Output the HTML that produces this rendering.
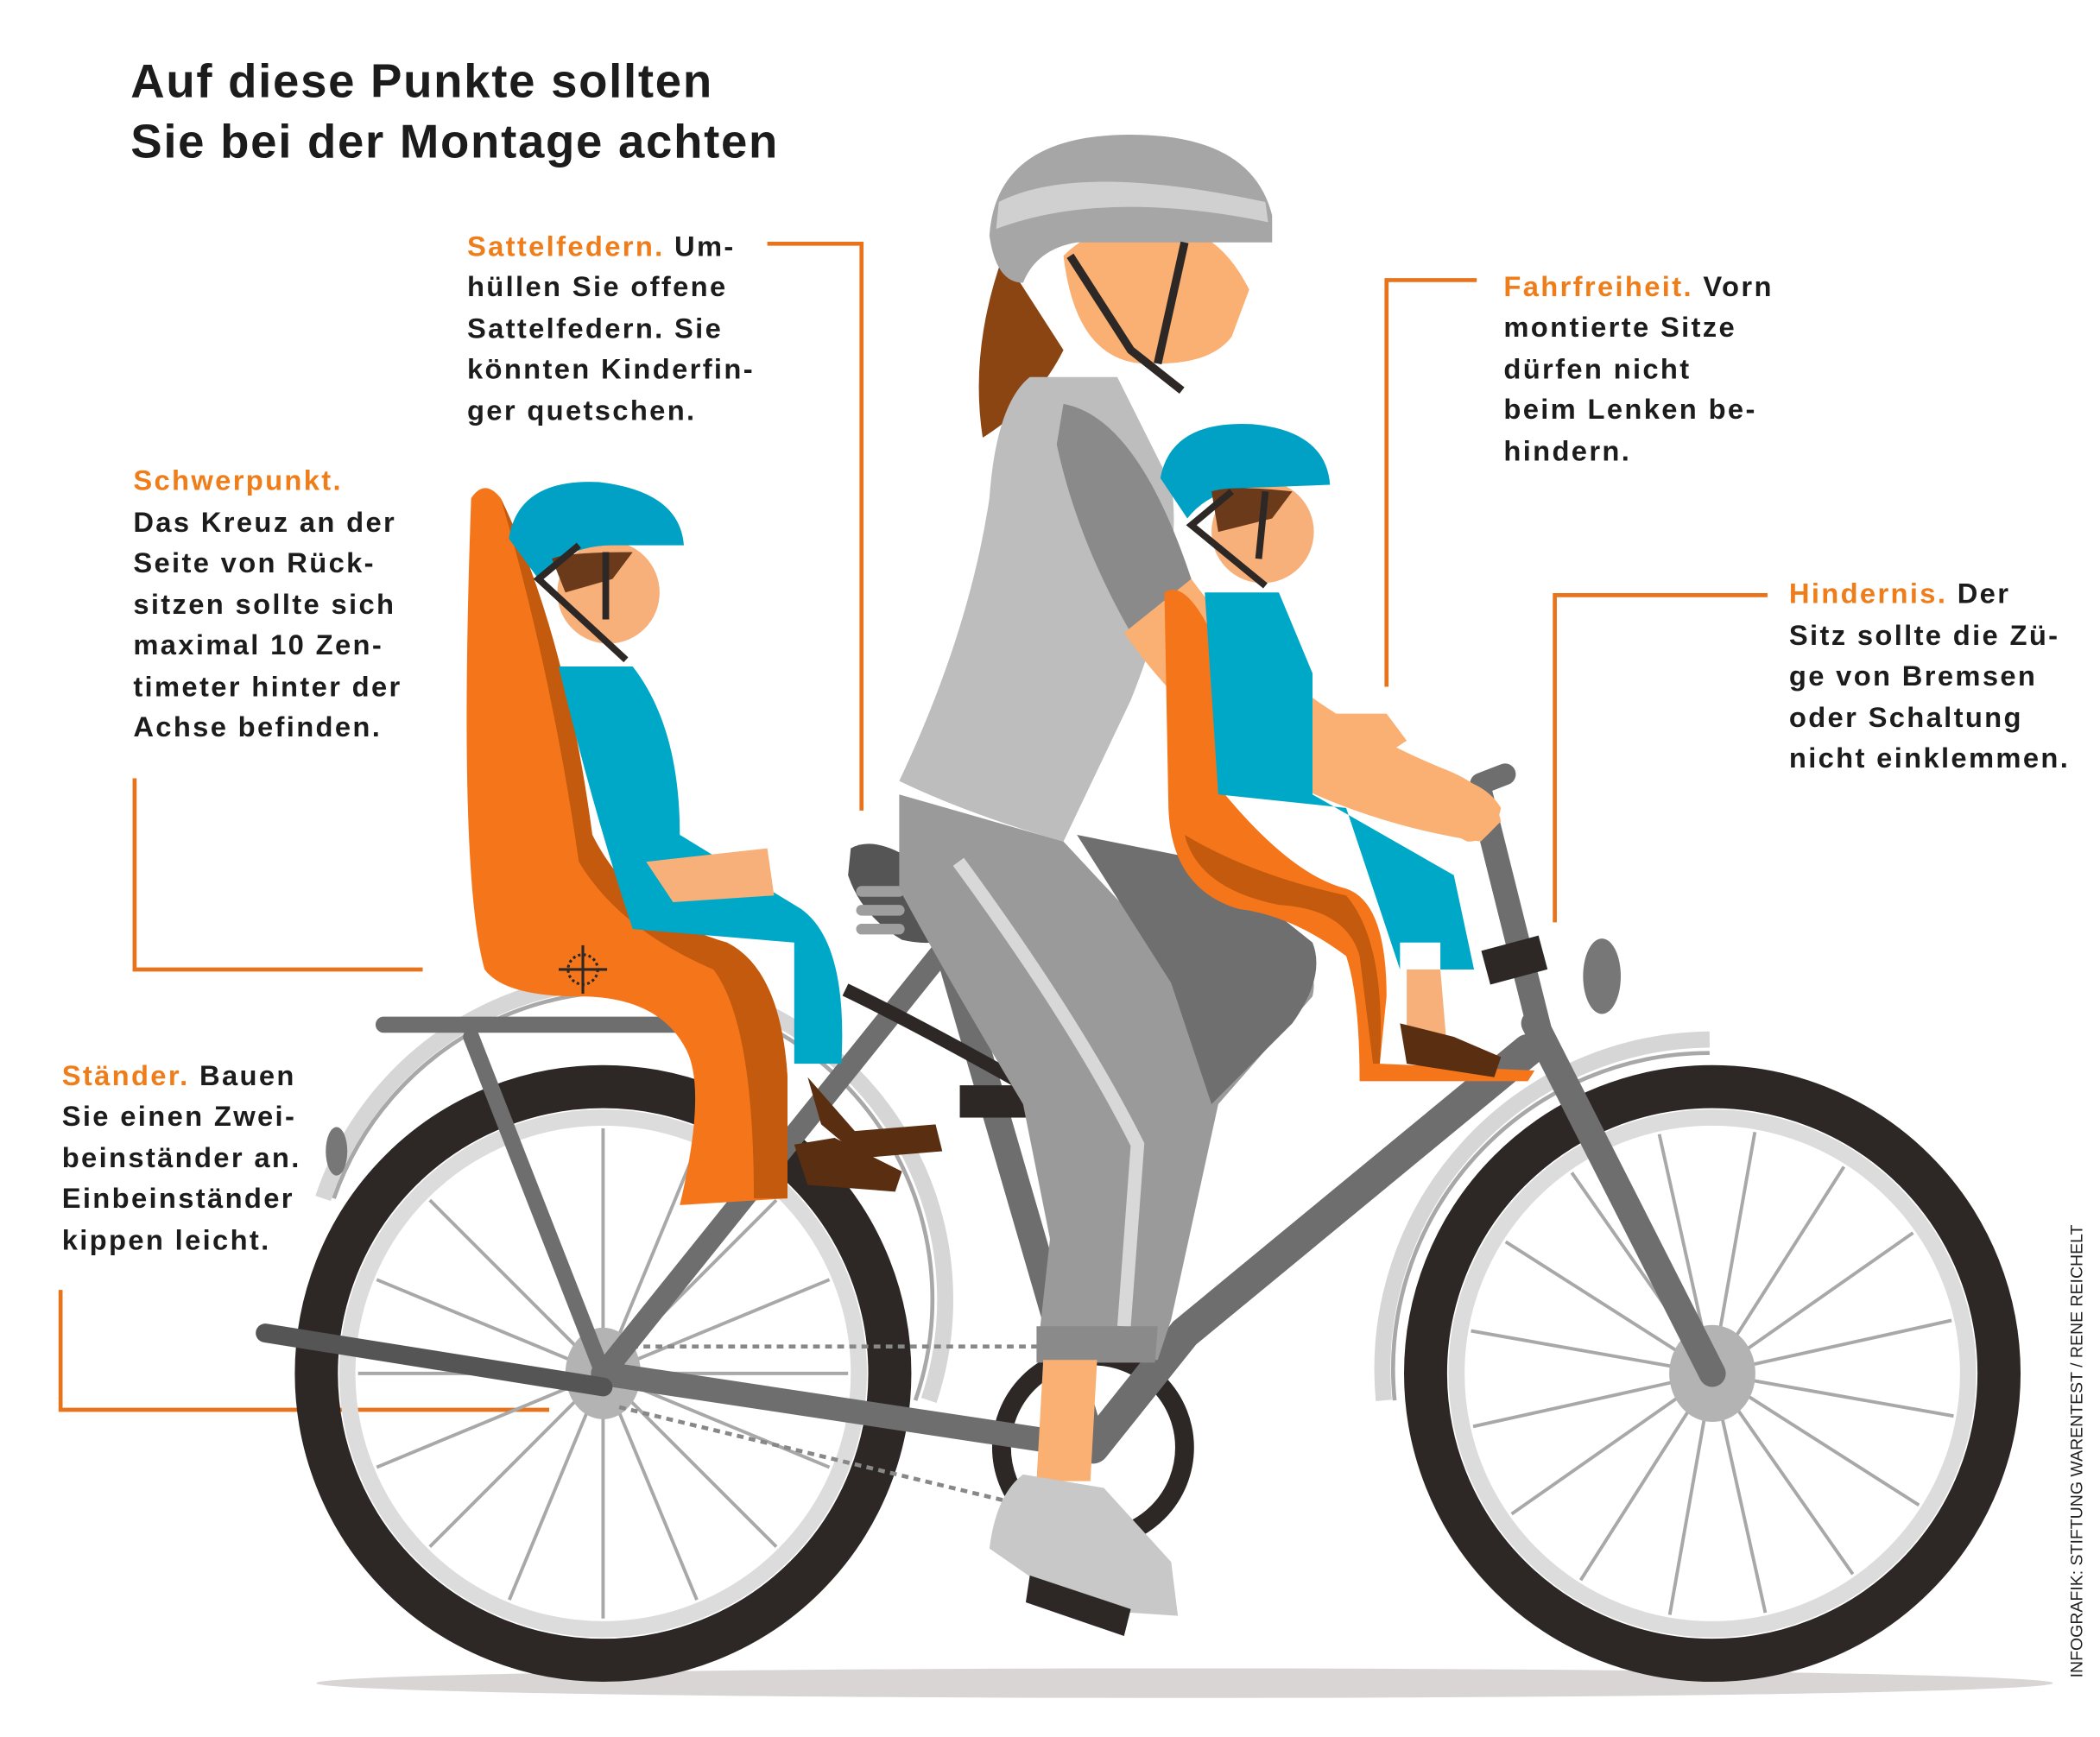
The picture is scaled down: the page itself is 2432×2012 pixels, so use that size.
<!DOCTYPE html>
<html><head><meta charset="utf-8"><style>
html,body{margin:0;padding:0;background:#fff}
svg{display:block}
text{font-family:"Liberation Sans",sans-serif}
.b{font-size:21px;font-weight:bold;fill:#1c1c1c;letter-spacing:1.5px}
.o{fill:#ef7d1a}
</style></head><body>
<svg width="2432" height="2012" viewBox="0 0 1560 1290" preserveAspectRatio="none" xmlns="http://www.w3.org/2000/svg">
<rect width="1560" height="1290" fill="#fff"/>
<!-- title -->
<text x="97" y="72" font-size="35" font-weight="bold" fill="#1c1c1c" letter-spacing="1.1">Auf diese Punkte sollten</text>
<text x="97" y="117" font-size="35" font-weight="bold" fill="#1c1c1c" letter-spacing="1.1">Sie bei der Montage achten</text>

<!-- connectors -->
<g stroke="#e8731a" stroke-width="3" fill="none">
<polyline points="570,181 640,181 640,602"/>
<polyline points="100,578 100,720 314,720"/>
<polyline points="45,958 45,1047 408,1047"/>
<polyline points="1097,208 1030,208 1030,510"/>
<polyline points="1313,442 1155,442 1155,685"/>
</g>

<!-- texts -->
<g class="b">
<text x="347" y="190"><tspan class="o">Sattelfedern.</tspan> Um-</text>
<text x="347" y="220">hüllen Sie offene</text>
<text x="347" y="251">Sattelfedern. Sie</text>
<text x="347" y="281">könnten Kinderfin-</text>
<text x="347" y="312">ger quetschen.</text>

<text x="99" y="364"><tspan class="o">Schwerpunkt.</tspan></text>
<text x="99" y="395">Das Kreuz an der</text>
<text x="99" y="425">Seite von Rück-</text>
<text x="99" y="456">sitzen sollte sich</text>
<text x="99" y="486">maximal 10 Zen-</text>
<text x="99" y="517">timeter hinter der</text>
<text x="99" y="547">Achse befinden.</text>

<text x="46" y="806"><tspan class="o">Ständer.</tspan> Bauen</text>
<text x="46" y="836">Sie einen Zwei-</text>
<text x="46" y="867">beinständer an.</text>
<text x="46" y="897">Einbeinständer</text>
<text x="46" y="928">kippen leicht.</text>

<text x="1117" y="220"><tspan class="o">Fahrfreiheit.</tspan> Vorn</text>
<text x="1117" y="250">montierte Sitze</text>
<text x="1117" y="281">dürfen nicht</text>
<text x="1117" y="311">beim Lenken be-</text>
<text x="1117" y="342">hindern.</text>

<text x="1329" y="448"><tspan class="o">Hindernis.</tspan> Der</text>
<text x="1329" y="479">Sitz sollte die Zü-</text>
<text x="1329" y="509">ge von Bremsen</text>
<text x="1329" y="540">oder Schaltung</text>
<text x="1329" y="570">nicht einklemmen.</text>
</g>
<text transform="translate(1547,1246) rotate(-90)" font-size="12.5" fill="#222">INFOGRAFIK: STIFTUNG WARENTEST / RENE REICHELT</text>

<!-- ground shadow -->
<ellipse cx="880" cy="1250" rx="645" ry="11" fill="#d8d5d4"/>

<!-- fenders -->
<path d="M240,890 A235,235 0 0 1 690,1040" stroke="#d6d6d6" stroke-width="12" fill="none"/>
<path d="M248,890 A225,225 0 0 1 680,1040" stroke="#a8a8a8" stroke-width="3" fill="none"/>
<path d="M1028,1040 A245,245 0 0 1 1270,772" stroke="#d6d6d6" stroke-width="12" fill="none"/>
<path d="M1036,1040 A235,235 0 0 1 1270,782" stroke="#a8a8a8" stroke-width="3" fill="none"/>

<!-- rear wheel -->
<g transform="translate(448,1020)">
<circle r="213" fill="none" stroke="#2d2826" stroke-width="32"/>
<circle r="190" fill="none" stroke="#dcdcdc" stroke-width="12"/>
<g stroke="#a8a8a8" stroke-width="2.5">
<line y2="-182"/><line y2="-182" transform="rotate(22.5)"/><line y2="-182" transform="rotate(45)"/><line y2="-182" transform="rotate(67.5)"/><line y2="-182" transform="rotate(90)"/><line y2="-182" transform="rotate(112.5)"/><line y2="-182" transform="rotate(135)"/><line y2="-182" transform="rotate(157.5)"/><line y2="-182" transform="rotate(180)"/><line y2="-182" transform="rotate(202.5)"/><line y2="-182" transform="rotate(225)"/><line y2="-182" transform="rotate(247.5)"/><line y2="-182" transform="rotate(270)"/><line y2="-182" transform="rotate(292.5)"/><line y2="-182" transform="rotate(315)"/><line y2="-182" transform="rotate(337.5)"/>
</g>
<ellipse rx="28" ry="34" fill="#b3b3b3"/>
</g>
<!-- front wheel -->
<g transform="translate(1272,1020)">
<circle r="213" fill="none" stroke="#2d2826" stroke-width="32"/>
<circle r="190" fill="none" stroke="#dcdcdc" stroke-width="12"/>
<g stroke="#a8a8a8" stroke-width="2.5">
<line y2="-182" transform="rotate(10)"/><line y2="-182" transform="rotate(32.5)"/><line y2="-182" transform="rotate(55)"/><line y2="-182" transform="rotate(77.5)"/><line y2="-182" transform="rotate(100)"/><line y2="-182" transform="rotate(122.5)"/><line y2="-182" transform="rotate(145)"/><line y2="-182" transform="rotate(167.5)"/><line y2="-182" transform="rotate(190)"/><line y2="-182" transform="rotate(212.5)"/><line y2="-182" transform="rotate(235)"/><line y2="-182" transform="rotate(257.5)"/><line y2="-182" transform="rotate(280)"/><line y2="-182" transform="rotate(302.5)"/><line y2="-182" transform="rotate(325)"/><line y2="-182" transform="rotate(347.5)"/>
</g>
<ellipse rx="32" ry="36" fill="#b3b3b3"/>
</g>

<!-- chain -->
<line x1="460" y1="1000" x2="800" y2="1000" stroke="#888" stroke-width="3" stroke-dasharray="5,4"/>
<line x1="460" y1="1045" x2="790" y2="1125" stroke="#888" stroke-width="3" stroke-dasharray="5,4"/>
<circle cx="812" cy="1075" r="68" fill="none" stroke="#2d2826" stroke-width="14"/>

<!-- frame -->
<g stroke="#6e6e6e" stroke-linecap="round" fill="none">
<line x1="448" y1="1020" x2="812" y2="1075" stroke-width="18"/>
<line x1="448" y1="1020" x2="705" y2="700" stroke-width="16"/>
<line x1="700" y1="690" x2="812" y2="1075" stroke-width="20"/>
<path d="M1135,780 L880,990 L812,1075" stroke-width="24"/>
<line x1="1140" y1="760" x2="1272" y2="1020" stroke-width="20"/>
<line x1="1100" y1="590" x2="1145" y2="770" stroke-width="18"/>
<line x1="1100" y1="582" x2="1118" y2="575" stroke-width="16"/>
<line x1="285" y1="761" x2="520" y2="761" stroke-width="12"/>
<line x1="350" y1="770" x2="448" y2="1020" stroke-width="12"/>
<line x1="197" y1="990" x2="448" y2="1030" stroke-width="14" stroke="#555"/>
</g>
<rect x="713" y="806" width="52" height="24" fill="#2d2826"/>
<path d="M628,735 Q680,760 760,805" stroke="#2d2826" stroke-width="10" fill="none"/>
<ellipse cx="1190" cy="725" rx="14" ry="28" fill="#777"/>
<ellipse cx="250" cy="855" rx="8" ry="18" fill="#777"/>
<!-- saddle -->
<path d="M632,630 Q650,620 680,640 L720,690 Q700,705 670,698 Q640,680 630,650 Z" fill="#555"/>
<g fill="#9e9e9e"><rect x="636" y="658" width="36" height="8" rx="4"/><rect x="636" y="672" width="36" height="8" rx="4"/><rect x="636" y="686" width="36" height="8" rx="4"/></g>

<!-- rear seat -->
<path d="M350,370 Q360,355 372,370 Q420,470 440,620 Q470,680 540,700 Q580,720 585,800 L585,890 L505,895 Q525,810 510,780 Q490,740 430,740 Q375,740 360,720 Q340,650 350,370 Z" fill="#f5761a"/>
<path d="M372,370 Q420,470 440,620 Q470,680 540,700 Q580,720 585,800 L585,890 L560,890 Q560,760 530,720 Q460,690 430,640 Q410,500 372,370 Z" fill="#c35a0e"/>
<!-- rear child -->
<path d="M415,495 L470,495 Q505,540 505,620 L595,675 Q630,700 625,790 L590,790 L590,700 L470,690 Q440,600 415,495 Z" fill="#00a8c8"/>
<path d="M480,640 L570,630 L575,665 L500,670 Z" fill="#f7b07a"/>
<path d="M600,800 L635,840 L695,835 L700,855 L640,860 L610,835 Z" fill="#5a2e10"/>
<path d="M590,850 L620,845 L670,870 L665,885 L600,880 Z" fill="#5a2e10"/>
<circle cx="452" cy="440" r="38" fill="#f7b07a"/>
<path d="M378,400 Q385,355 445,358 Q505,365 508,405 L455,405 Q420,405 400,430 Z" fill="#00a1c4"/>
<path d="M410,415 Q420,410 470,410 L455,430 L420,440 Z" fill="#6b3a1a"/>
<path d="M430,405 L400,430 L465,490 M450,410 L450,460" stroke="#2d2826" stroke-width="5" fill="none"/>
<g transform="translate(433,720)" stroke="#2d2826" stroke-width="2" fill="none"><line x1="-18" x2="18"/><line y1="-18" y2="18"/><circle r="11" stroke-dasharray="2,2"/></g>

<!-- woman -->
<path d="M745,190 Q720,260 730,325 Q770,300 790,260 Z" fill="#8b4513"/>
<path d="M790,190 Q800,275 860,270 Q900,270 915,250 L928,215 Q905,170 870,170 Q820,160 790,190 Z" fill="#fbb073"/>
<path d="M735,175 Q740,100 840,100 Q930,100 945,160 L945,180 L800,180 Q770,185 760,210 Q740,210 735,175 Z" fill="#a6a6a6"/>
<path d="M742,150 Q800,120 940,150 L942,165 Q820,140 740,170 Z" fill="#d0d0d0"/>
<path d="M795,190 L840,260 L878,290 M880,180 L860,270" stroke="#2d2826" stroke-width="6" fill="none"/>
<!-- torso -->
<path d="M765,280 L830,280 L870,360 Q880,420 840,520 L790,625 Q720,605 668,580 Q720,470 735,370 Q740,300 765,280 Z" fill="#bdbdbd"/>
<path d="M790,300 Q845,310 885,430 L840,470 Q800,400 785,330 Z" fill="#8a8a8a"/>
<path d="M835,470 L885,430 Q950,520 1070,570 Q1110,585 1115,610 L1100,625 Q1000,610 920,560 Q870,520 835,470 Z" fill="#fbb073"/>
<!-- legs -->
<path d="M668,590 L790,625 L860,700 L960,700 Q980,720 975,740 L905,820 L870,980 L860,1010 L770,1010 L780,920 L760,820 Q700,720 668,660 Z" fill="#9a9a9a"/>
<path d="M800,620 L900,640 L975,700 Q985,725 960,760 L900,820 L870,730 Z" fill="#6f6f6f"/>
<path d="M712,640 Q800,760 845,850 L835,985" stroke="#d8d8d8" stroke-width="10" fill="none"/>
<path d="M770,985 L860,985 L858,1012 L770,1012 Z" fill="#8a8a8a"/>
<path d="M775,1010 L815,1010 L810,1100 L770,1100 Z" fill="#fbb073"/>
<path d="M760,1095 L820,1105 L870,1160 L875,1200 L800,1195 L735,1150 Q740,1110 760,1095 Z" fill="#c8c8c8"/>
<path d="M765,1170 L840,1195 L835,1215 L762,1190 Z" fill="#2d2826"/>

<!-- front seat -->
<path d="M865,440 Q880,430 900,470 L910,590 Q960,650 1000,660 Q1030,670 1030,740 L1025,790 L1140,795 L1135,803 L1010,803 Q1010,740 1000,710 Q960,680 920,675 Q870,660 868,600 Z" fill="#f5761a"/>
<path d="M880,620 Q890,660 950,672 Q1000,675 1010,710 L1020,790 L1025,790 Q1030,700 1000,665 Q930,650 880,620 Z" fill="#c35a0e"/>
<!-- front child -->
<path d="M895,440 L950,440 L975,500 L975,590 L1080,650 L1095,720 L1070,720 L1070,700 L1040,700 L1040,720 L1000,600 L905,590 Z" fill="#00a8c8"/>
<path d="M1045,720 L1070,720 L1075,780 L1045,780 Z" fill="#f7b07a"/>
<path d="M1040,760 L1080,770 L1115,785 L1110,800 L1045,790 Z" fill="#5a2e10"/>
<circle cx="938" cy="395" r="38" fill="#f7b07a"/>
<path d="M862,355 Q870,312 930,315 Q985,320 988,360 L935,362 Q900,362 882,385 Z" fill="#00a1c4"/>
<path d="M900,365 Q915,360 960,365 L945,385 L905,395 Z" fill="#6b3a1a"/>
<path d="M915,365 L885,390 L940,435 M940,365 L935,415" stroke="#2d2826" stroke-width="5" fill="none"/>
<path d="M975,530 L1030,530 L1045,550 L1030,560 L975,555 Z" fill="#fbb073"/>
<rect x="1103" y="700" width="44" height="26" fill="#2d2826" transform="rotate(-15 1125 713)"/>
<path d="M1055,575 Q1100,575 1115,600 Q1110,625 1090,625 L1060,610 Z" fill="#fbb073"/>
</svg>
</body></html>
